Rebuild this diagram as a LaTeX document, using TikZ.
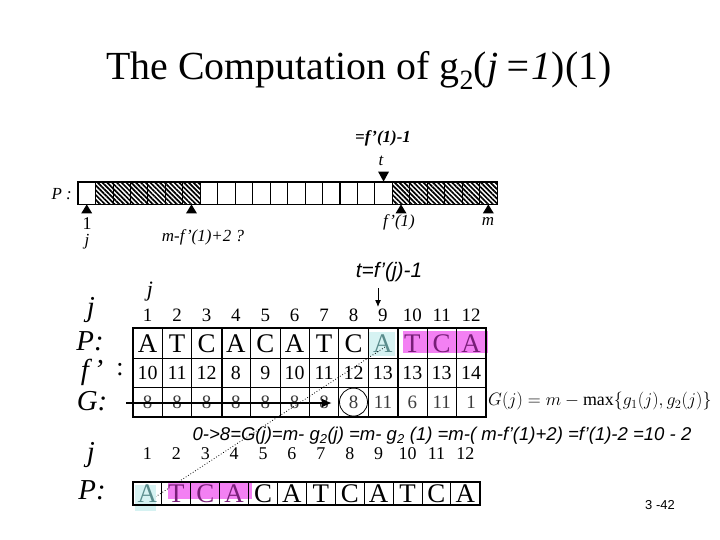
\documentclass[tikz,border=0pt]{standalone}
\usepackage{graphicx}
\usepackage{fontspec}
\setmainfont{Liberation Serif}
\setsansfont{Liberation Sans}
\newfontfamily\titlefont{Liberation Serif}
\usetikzlibrary{patterns.meta,arrows.meta}
\definecolor{pinkfill}{RGB}{243,128,243}
\definecolor{pinktext}{RGB}{120,30,120}
\definecolor{cyanfill}{RGB}{214,242,242}
\definecolor{cyantext}{RGB}{90,140,140}
\definecolor{gtext}{RGB}{60,60,60}
\newcommand\fs[1]{\fontsize{#1}{#1}\selectfont}
\tikzset{
  barcell/.style={draw, line width=0.8, minimum width=17.46bp, minimum height=22bp, inner sep=0pt},
  hatchcell/.style={barcell, pattern={Lines[angle=-45,distance=3.4pt,line width=1.7pt]}},
  tri/.style={fill=black},
  lab/.style={inner sep=0pt, font=\fs{17}\itshape},
  cell/.style={draw, line width=0.9, minimum width=29.4bp, minimum height=29.3bp, inner sep=0pt},
  bcell/.style={draw, line width=0.9, minimum width=28.9bp, minimum height=23bp, inner sep=0pt, font=\fs{27}},
  letter/.style={font=\fs{27}},
  fnum/.style={font=\fs{20}},
  gnum/.style={font=\fs{19}, text=gtext},
  head/.style={inner sep=0pt, font=\fs{19}},
  rowlab/.style={inner sep=0pt, font=\fs{29}\itshape},
}
\begin{document}
\begin{tikzpicture}[x=1bp,y=-1bp]
\useasboundingbox (0,0) rectangle (720,540);
\fill[white] (0,0) rectangle (720,540);

% title
\node[anchor=base, inner sep=0pt] (title) at (359,80) {\titlefont\fs{40}The Computation of g\textsubscript{2}(\textit{j\,=1})(1)};

% top bar
\foreach \k in {0,...,23}{
  \ifnum\k>0 \ifnum\k<7 \def\st{hatchcell}\else\ifnum\k>17 \def\st{hatchcell}\else\def\st{barcell}\fi\fi
  \else \def\st{barcell}\fi
  \node[\st] (b\k) at ({78+(\k+0.5)*17.46},193) {};
}
\draw[line width=1.8] (b14.north east) -- (b14.south east);
\draw[line width=0.8] (b0.north west) rectangle (b23.south east);
\node[lab, anchor=east] (plab) at (72,194) {P :};
\foreach \k/\n in {0/ta,6/tb,18/tc,23/td}{
  \fill[tri] (b\k.south) -- ++(-5.5,9) -- ++(11,0) -- cycle;
  \coordinate (\n) at ([yshift=-9bp]b\k.south);
}
\fill[tri] (b17.north) -- ++(-5.5,-10) -- ++(11,0) -- cycle;
\node[lab, font=\fs{17}\bfseries\itshape] (fm1) at (383,138) {=f'(1)-1};
\node[lab] (tlab) at (381,161) {t};
\node[lab, font=\fs{18}] (one) at (87,224) {1};
\node[lab] (jlab) at (87,242) {j};
\node[lab] (mf2) at (203,237) {m-f'(1)+2 ?};
\node[lab] (fone) at (399,222) {f'(1)};
\node[lab] (mlab) at (488,222) {m};

% labels above table
\node[lab, font=\fs{22}\itshape] (jtop) at (150,292) {j};
\node[lab, font=\fs{21}\sffamily\itshape] (tf) at (389,272) {t=f'(j)-1};
\coordinate (arrs) at (378,288);
\coordinate (arre) at (378,307);
\draw[line width=1, -{Latex[length=7,width=6]}] (arrs) -- (arre);

% top table
\fill[pinkfill] (403,331) rectangle (488,353);
\fill[cyanfill] (369,332) rectangle (395,356);
\foreach \i/\l/\c in {1/A/black,2/T/black,3/C/black,4/A/black,5/C/black,6/A/black,7/T/black,8/C/black,9/A/cyantext,10/T/pinktext,11/C/pinktext,12/A/pinktext}{
  \node[head] (h\i) at ({133+(\i-0.5)*29.4},315) {\i};
  \node[cell, letter, text=\c] (p\i) at ({133+(\i-0.5)*29.4},343.5) {\l};
}
\foreach \i/\v in {1/10,2/11,3/12,4/8,5/9,6/10,7/11,8/12,9/13,10/13,11/13,12/14}{
  \node[cell, fnum] (f\i) at ({133+(\i-0.5)*29.4},372.8) {\v};
}
\foreach \i/\v in {1/8,2/8,3/8,4/8,5/8,6/8,7/8,8/8,9/11,10/6,11/11,12/1}{
  \node[cell, gnum] (g\i) at ({133+(\i-0.5)*29.4},402.1) {\v};
}
\draw[line width=1.8] (p3.north east) -- (g3.south east);
\draw[line width=2.6] (p9.north east) -- (g9.south east);
\draw[line width=2] (p1.north west) rectangle (g12.south east);

\node[rowlab] (rj) at (91,310) {j};
\node[rowlab] (rp) at (90,341) {P:};
\node[rowlab] (rf) at (92,372) {f\,'};
\node[rowlab, font=\fs{26}] (rfc) at (120,370) {:};
\node[rowlab] (rg) at (92,401) {G:};

% G row arrow and circle
\coordinate (gstart) at (126,403);
\coordinate (gend) at (332,403);
\draw[line width=2, -{Latex[length=10,width=9]}] (gstart) -- (gend);
\node[circle, draw, line width=0.8, minimum size=28bp, inner sep=0pt] (circ) at (g8) {};

% formula at right
\node[anchor=west, inner sep=0pt] (gform) at (488,401) {\scalebox{1.04}{\fs{17.28}$G(j) = m - \max\{g_1(j), g_2(j)\}$}};

% dotted line
\coordinate (dstart) at (385,347);
\coordinate (dend) at (143,505);
\draw[dotted, line width=0.8] (dstart) -- (dend);

% formula line
\node[inner sep=0pt, font=\fs{18.6}\sffamily\itshape] (line) at (442,436) {0->8=G(j)=m- g\textsubscript{2}(j) =m- g\textsubscript{2} (1) =m-( m-f'(1)+2) =f'(1)-2 =10 - 2};

% bottom table
\fill[pinkfill] (168,482) rectangle (252,499);
\fill[cyanfill] (135,485) rectangle (156,511);
\foreach \i/\l/\c in {1/A/cyantext,2/T/pinktext,3/C/pinktext,4/A/pinktext,5/C/black,6/A/black,7/T/black,8/C/black,9/A/black,10/T/black,11/C/black,12/A/black}{
  \node[head, font=\fs{18}] (k\i) at ({133+(\i-0.5)*28.9},454) {\i};
  \node[bcell, text=\c] (q\i) at ({133+(\i-0.5)*28.9},493.5) {\l};
}
\draw[line width=2] (q1.north west) rectangle (q12.south east);
\node[rowlab] (bj) at (91,455) {j};
\node[rowlab] (bp) at (92,490) {P:};

% page number
\node[inner sep=0pt, font=\fs{13}\sffamily] (pg) at (660,505) {3 -42};
\end{tikzpicture}
\end{document}
